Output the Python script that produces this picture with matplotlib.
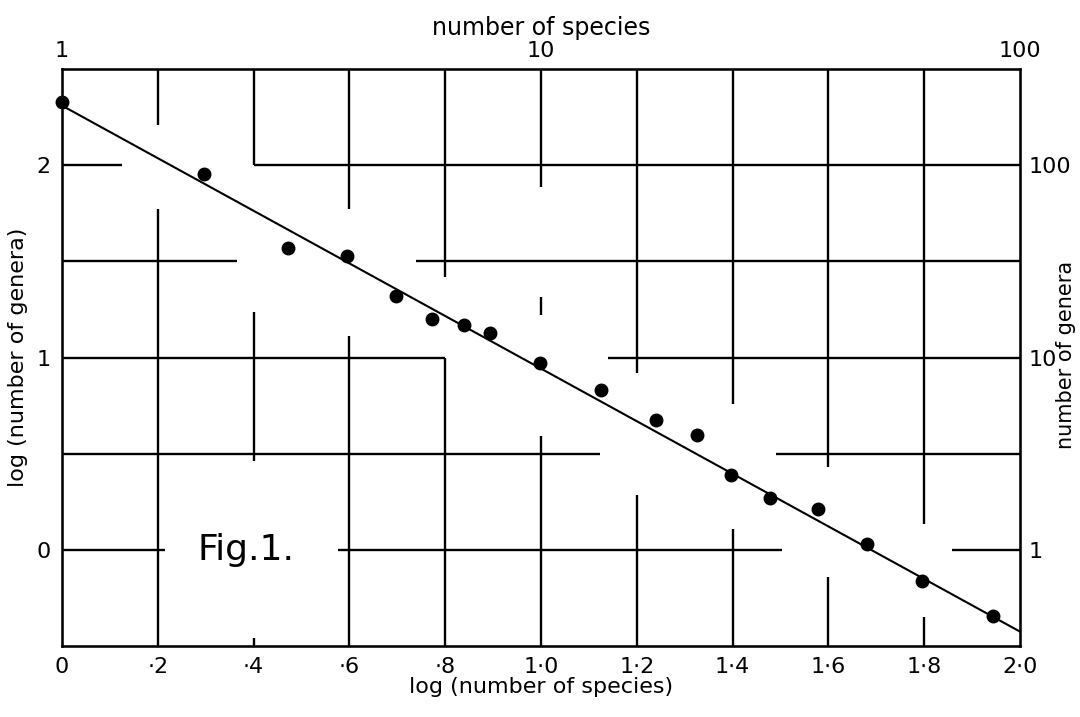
import matplotlib
matplotlib.use('Agg')
import matplotlib.pyplot as plt

# log10 of number of species per genus vs log10 of number of genera
log_species = [0.0, 0.297, 0.472, 0.596, 0.697, 0.773, 0.840, 0.894, 0.997,
               1.125, 1.240, 1.326, 1.397, 1.478, 1.578, 1.680, 1.795, 1.944]
log_genera = [2.328, 1.954, 1.570, 1.528, 1.319, 1.202, 1.168, 1.130, 0.972,
              0.833, 0.677, 0.595, 0.390, 0.271, 0.213, 0.031, -0.163, -0.346]

# fitted straight line (end points)
fit_x = [0.0, 2.0]
fit_y = [2.31, -0.425]

# hand drawn grid: broken lines, (position, from, to)
grid_v = [(0.2, 2.5, 2.21), (0.2, 1.77, -0.5),
          (0.4, 2.5, 2.0), (0.4, 1.235, 0.46), (0.4, -0.46, -0.5),
          (0.6, 2.5, 1.77), (0.6, 1.114, -0.5),
          (0.8, 2.5, 1.417), (0.8, 1.0, -0.5),
          (1.0, 2.5, 1.885), (1.0, 1.314, 1.22), (1.0, 0.59, -0.5),
          (1.2, 2.5, 0.92), (1.2, 0.284, -0.5),
          (1.4, 2.5, 0.76), (1.4, 0.11, -0.5),
          (1.6, 2.5, 0.43), (1.6, -0.14, -0.5),
          (1.8, 2.5, 0.137), (1.8, -0.35, -0.5)]
grid_h = [(2.0, 0.0, 0.126), (2.0, 0.4, 2.0),
          (1.5, 0.0, 0.365), (1.5, 0.74, 2.0),
          (1.0, 0.0, 0.8), (1.0, 1.14, 2.0),
          (0.5, 0.0, 1.124), (0.5, 1.49, 2.0),
          (0.0, 0.0, 0.216), (0.0, 0.576, 1.503), (0.0, 1.859, 2.0)]

x_ticks = [0, 0.2, 0.4, 0.6, 0.8, 1.0, 1.2, 1.4, 1.6, 1.8, 2.0]
x_labels = ['0', '·2', '·4', '·6', '·8', '1·0', '1·2', '1·4', '1·6', '1·8', '2·0']
y_ticks = [0, 1, 2]
y_labels = ['0', '1', '2']
top_ticks = [0, 1, 2]
top_labels = ['1', '10', '100']
right_ticks = [0, 1, 2]
right_labels = ['1', '10', '100']

fs = 16
fig = plt.figure(figsize=(10.8, 7.17), dpi=100)
ax = fig.add_axes([0.0574, 0.099, 0.887, 0.8047])
ax.set_xlim(0, 2)
ax.set_ylim(-0.5, 2.5)

for x, y0, y1 in grid_v:
    ax.vlines(x, y0, y1, color='black', lw=1.7)
for y, x0, x1 in grid_h:
    ax.hlines(y, x0, x1, color='black', lw=1.7)

ax.plot(fit_x, fit_y, color='black', lw=1.5, clip_on=False)
ax.plot(log_species, log_genera, 'o', color='black', markersize=9, clip_on=False, zorder=5)

ax.text(0.385, 0.0, 'Fig.1.', fontsize=26, ha='center', va='center')

for s in ax.spines.values():
    s.set_linewidth(1.8)

ax.set_xticks(x_ticks)
ax.set_xticklabels(x_labels, fontsize=fs)
ax.set_yticks(y_ticks)
ax.set_yticklabels(y_labels, fontsize=fs)
ax.tick_params(length=0, pad=8)
ax.set_xlabel('log (number of species)', fontsize=fs, labelpad=0)
ax.set_ylabel('log (number of genera)', fontsize=fs, labelpad=6)

ax_top = ax.twiny()
ax_top.set_xlim(0, 2)
ax_top.set_xticks(top_ticks)
ax_top.set_xticklabels(top_labels, fontsize=fs)
ax_top.tick_params(length=0, pad=6)
ax_top.set_xlabel('number of species', fontsize=17, labelpad=4)

ax_right = ax.twinx()
ax_right.set_ylim(-0.5, 2.5)
ax_right.set_yticks(right_ticks)
ax_right.set_yticklabels(right_labels, fontsize=fs)
ax_right.tick_params(length=0, pad=6)

# right axis title sits close to the tick labels, as in the drawing
fig.text(1066 / 1080, 0.505, 'number of genera', rotation=90,
         ha='center', va='center', fontsize=15)

plt.savefig('out.png', dpi=100)
